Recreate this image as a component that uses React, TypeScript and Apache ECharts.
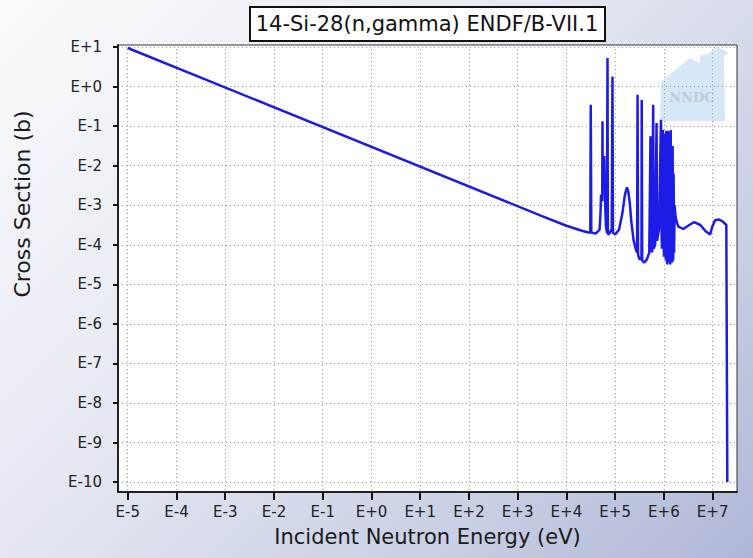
import React, { useEffect, useRef } from "react";
import * as echarts from "echarts";

// Incident neutron energy (eV) and capture cross section (b)
const energyEV: number[] = [
  1e-5, 3.16e3, 1e4, 2.0e4, 2.82e4, 3.09e4, 3.16e4, 3.24e4, 3.98e4, 4.79e4, 5.01e4, 5.13e4,
  5.43e4, 5.5e4, 5.56e4, 5.82e4, 5.96e4, 6.17e4, 6.46e4, 6.76e4, 6.97e4, 7.08e4, 7.59e4,
  8.51e4, 8.81e4, 9.02e4, 1.0e5, 1.2e5, 1.41e5, 1.58e5, 1.74e5, 1.86e5, 2.0e5, 2.14e5,
  2.4e5, 2.63e5, 2.82e5, 2.88e5, 2.95e5, 3.16e5, 3.47e5, 3.51e5, 3.59e5, 3.98e5, 4.47e5,
  5.01e5, 5.31e5, 5.43e5, 5.75e5, 6.03e5, 6.17e5, 6.61e5, 7.08e5, 7.24e5, 7.94e5, 8.71e5,
  8.91e5, 9.12e5, 9.55e5, 1.0e6, 1.02e6, 1.1e6, 1.12e6, 1.17e6, 1.2e6, 1.26e6, 1.29e6,
  1.35e6, 1.38e6, 1.41e6, 1.45e6, 1.48e6, 1.51e6, 1.55e6, 1.58e6, 1.62e6, 1.66e6, 1.74e6,
  1.86e6, 2.0e6, 2.51e6, 3.31e6, 4.17e6, 5.62e6, 7.08e6, 8.91e6, 9.77e6, 1.12e7, 1.32e7,
  1.58e7, 1.91e7, 2.0e7, 2.0e7
];
const crossSectionB: number[] = [
  9.44, 5.31e-4, 3.02e-4, 2.29e-4, 2.04e-4, 2.04e-4, 0.347, 2.04e-4, 1.91e-4, 2.4e-4, 6.31e-4,
  1.86e-3, 1.26e-3, 0.132, 3.16e-3, 2.51e-3, 1.74e-2, 1.58e-3, 3.16e-4, 2.0e-4, 5.25, 1.82e-4,
  1.91e-4, 2.51e-4, 1.78, 2.0e-4, 1.82e-4, 2.4e-4, 6.31e-4, 1.78e-3, 2.82e-3, 2.24e-3, 1.12e-3,
  3.98e-4, 1.26e-4, 7.94e-5, 6.31e-5, 0.617, 5.62e-5, 4.27e-5, 4.47e-5, 0.457, 3.98e-5,
  3.55e-5, 4.27e-5, 6.31e-5, 5.5e-2, 7.94e-5, 6.46e-5, 0.347, 7.94e-5, 1.0e-4, 0.12, 1.26e-4,
  2.51e-4, 0.145, 3.16e-4, 7.94e-5, 8.13e-2, 5.01e-5, 6.31e-2, 3.98e-5, 7.59e-2, 3.16e-5,
  7.59e-2, 3.55e-5, 7.08e-2, 3.16e-5, 7.94e-2, 5.01e-5, 3.09e-2, 3.55e-5, 3.16e-2, 3.98e-5,
  6.31e-3, 6.31e-5, 1.0e-3, 5.01e-4, 3.55e-4, 2.82e-4, 2.51e-4, 3.16e-4, 3.72e-4, 3.16e-4,
  2.24e-4, 1.82e-4, 2.82e-4, 4.17e-4, 4.37e-4, 3.98e-4, 3.16e-4, 1.0e-10
];

const energyTicks: number[] = [-5, -4, -3, -2, -1, 0, 1, 2, 3, 4, 5, 6, 7];
const sectionTicks: number[] = [-10, -9, -8, -7, -6, -5, -4, -3, -2, -1, 0, 1];

const titleText = "14-Si-28(n,gamma) ENDF/B-VII.1";
const xName = "Incident Neutron Energy (eV)";
const yName = "Cross Section (b)";

const FONT = "DejaVu Sans";
const fmtExp = (v: number) => (v >= 0 ? "E+" + Math.round(v) : "E" + Math.round(v));

export default function App() {
  const ref = useRef<HTMLDivElement>(null);
  useEffect(() => {
    if (!ref.current) return;
    const chart = echarts.init(ref.current, undefined, { renderer: "svg" });
    const n = Math.min(energyEV.length, crossSectionB.length);
    const data: number[][] = [];
    for (let i = 0; i < n; i++) data.push([Math.log10(energyEV[i]), Math.log10(crossSectionB[i])]);

    const L = 118, T = 45, R = 737, B = 492;
    chart.setOption({
      animation: false,
      backgroundColor: "transparent",
      textStyle: { fontFamily: FONT },
      grid: {
        left: L, top: T, right: 753 - R, bottom: 558 - B,
        show: true, borderColor: "#333", borderWidth: 1, backgroundColor: "transparent",
      },
      xAxis: {
        type: "value", min: -5.2, max: 7.5,
        name: xName, nameLocation: "middle", nameGap: 34,
        nameTextStyle: { fontFamily: FONT, fontSize: 21, color: "#1a1a1a" },
        axisLine: { show: true, onZero: false, lineStyle: { color: "#222", width: 2 } },
        axisTick: { show: true, customValues: energyTicks, length: 8, lineStyle: { color: "#111", width: 2 } },
        axisLabel: { customValues: energyTicks, formatter: fmtExp, margin: 12, fontFamily: FONT, fontSize: 15, color: "#222" },
        splitLine: { show: true, lineStyle: { color: "#9a9a9a", width: 1, type: [1, 3] } },
      },
      yAxis: {
        type: "value", min: -10.25, max: 1.05,
        axisLine: { show: true, onZero: false, lineStyle: { color: "#222", width: 2 } },
        axisTick: { show: true, customValues: sectionTicks, length: 5, lineStyle: { color: "#111", width: 2 } },
        axisLabel: { customValues: sectionTicks, formatter: fmtExp, margin: 16, fontFamily: FONT, fontSize: 15, color: "#222" },
        splitLine: { show: true, lineStyle: { color: "#9a9a9a", width: 1, type: [1, 3] } },
      },
      graphic: [
        { type: "rect", z: -20, shape: { x: L, y: T, width: R - L, height: B - T }, style: { fill: "#ffffff" } },
        {
          type: "polygon", z: -10,
          shape: { points: [[660, 121], [661, 82], [690, 58], [700, 63], [700, 55], [706, 55], [717, 47], [729, 53], [724, 56], [725, 121]] },
          style: { fill: "#cfe3f7", opacity: 0.85 },
        },
        {
          type: "text", z: -9, x: 692, y: 97,
          style: { text: "NNDC", fontFamily: "DejaVu Serif", fontWeight: "bold", fontSize: 13, fill: "#c3ccd6", align: "center", verticalAlign: "middle" },
        },
        {
          type: "rect", z: 10, shape: { x: 250, y: 7, width: 355, height: 34 },
          style: { fill: "#ffffff", stroke: "#111", lineWidth: 2 },
        },
        {
          type: "text", z: 11, x: 427, y: 24,
          style: { text: titleText, fontFamily: FONT, fontSize: 21, fill: "#111", align: "center", verticalAlign: "middle" },
        },
        {
          type: "text", z: 11, x: 22, y: 204, rotation: Math.PI / 2,
          style: { text: yName, fontFamily: FONT, fontSize: 22, fill: "#1a1a1a", align: "center", verticalAlign: "middle" },
        },
      ],
      series: [
        {
          type: "line", data, showSymbol: false, symbol: "none",
          lineStyle: { color: "#1c1ce6", width: 2.5 },
          clip: true,
        },
      ],
    });
    return () => chart.dispose();
  }, []);
  return (
    <div
      style={{
        position: "fixed", left: 0, top: 0, width: 753, height: 558,
        background: "linear-gradient(135deg, #fbfbfd 0%, #e6e9f2 40%, #c9cfe4 75%, #aeb7d6 100%)",
      }}
    >
      <div ref={ref} style={{ width: 753, height: 558 }} />
    </div>
  );
}
